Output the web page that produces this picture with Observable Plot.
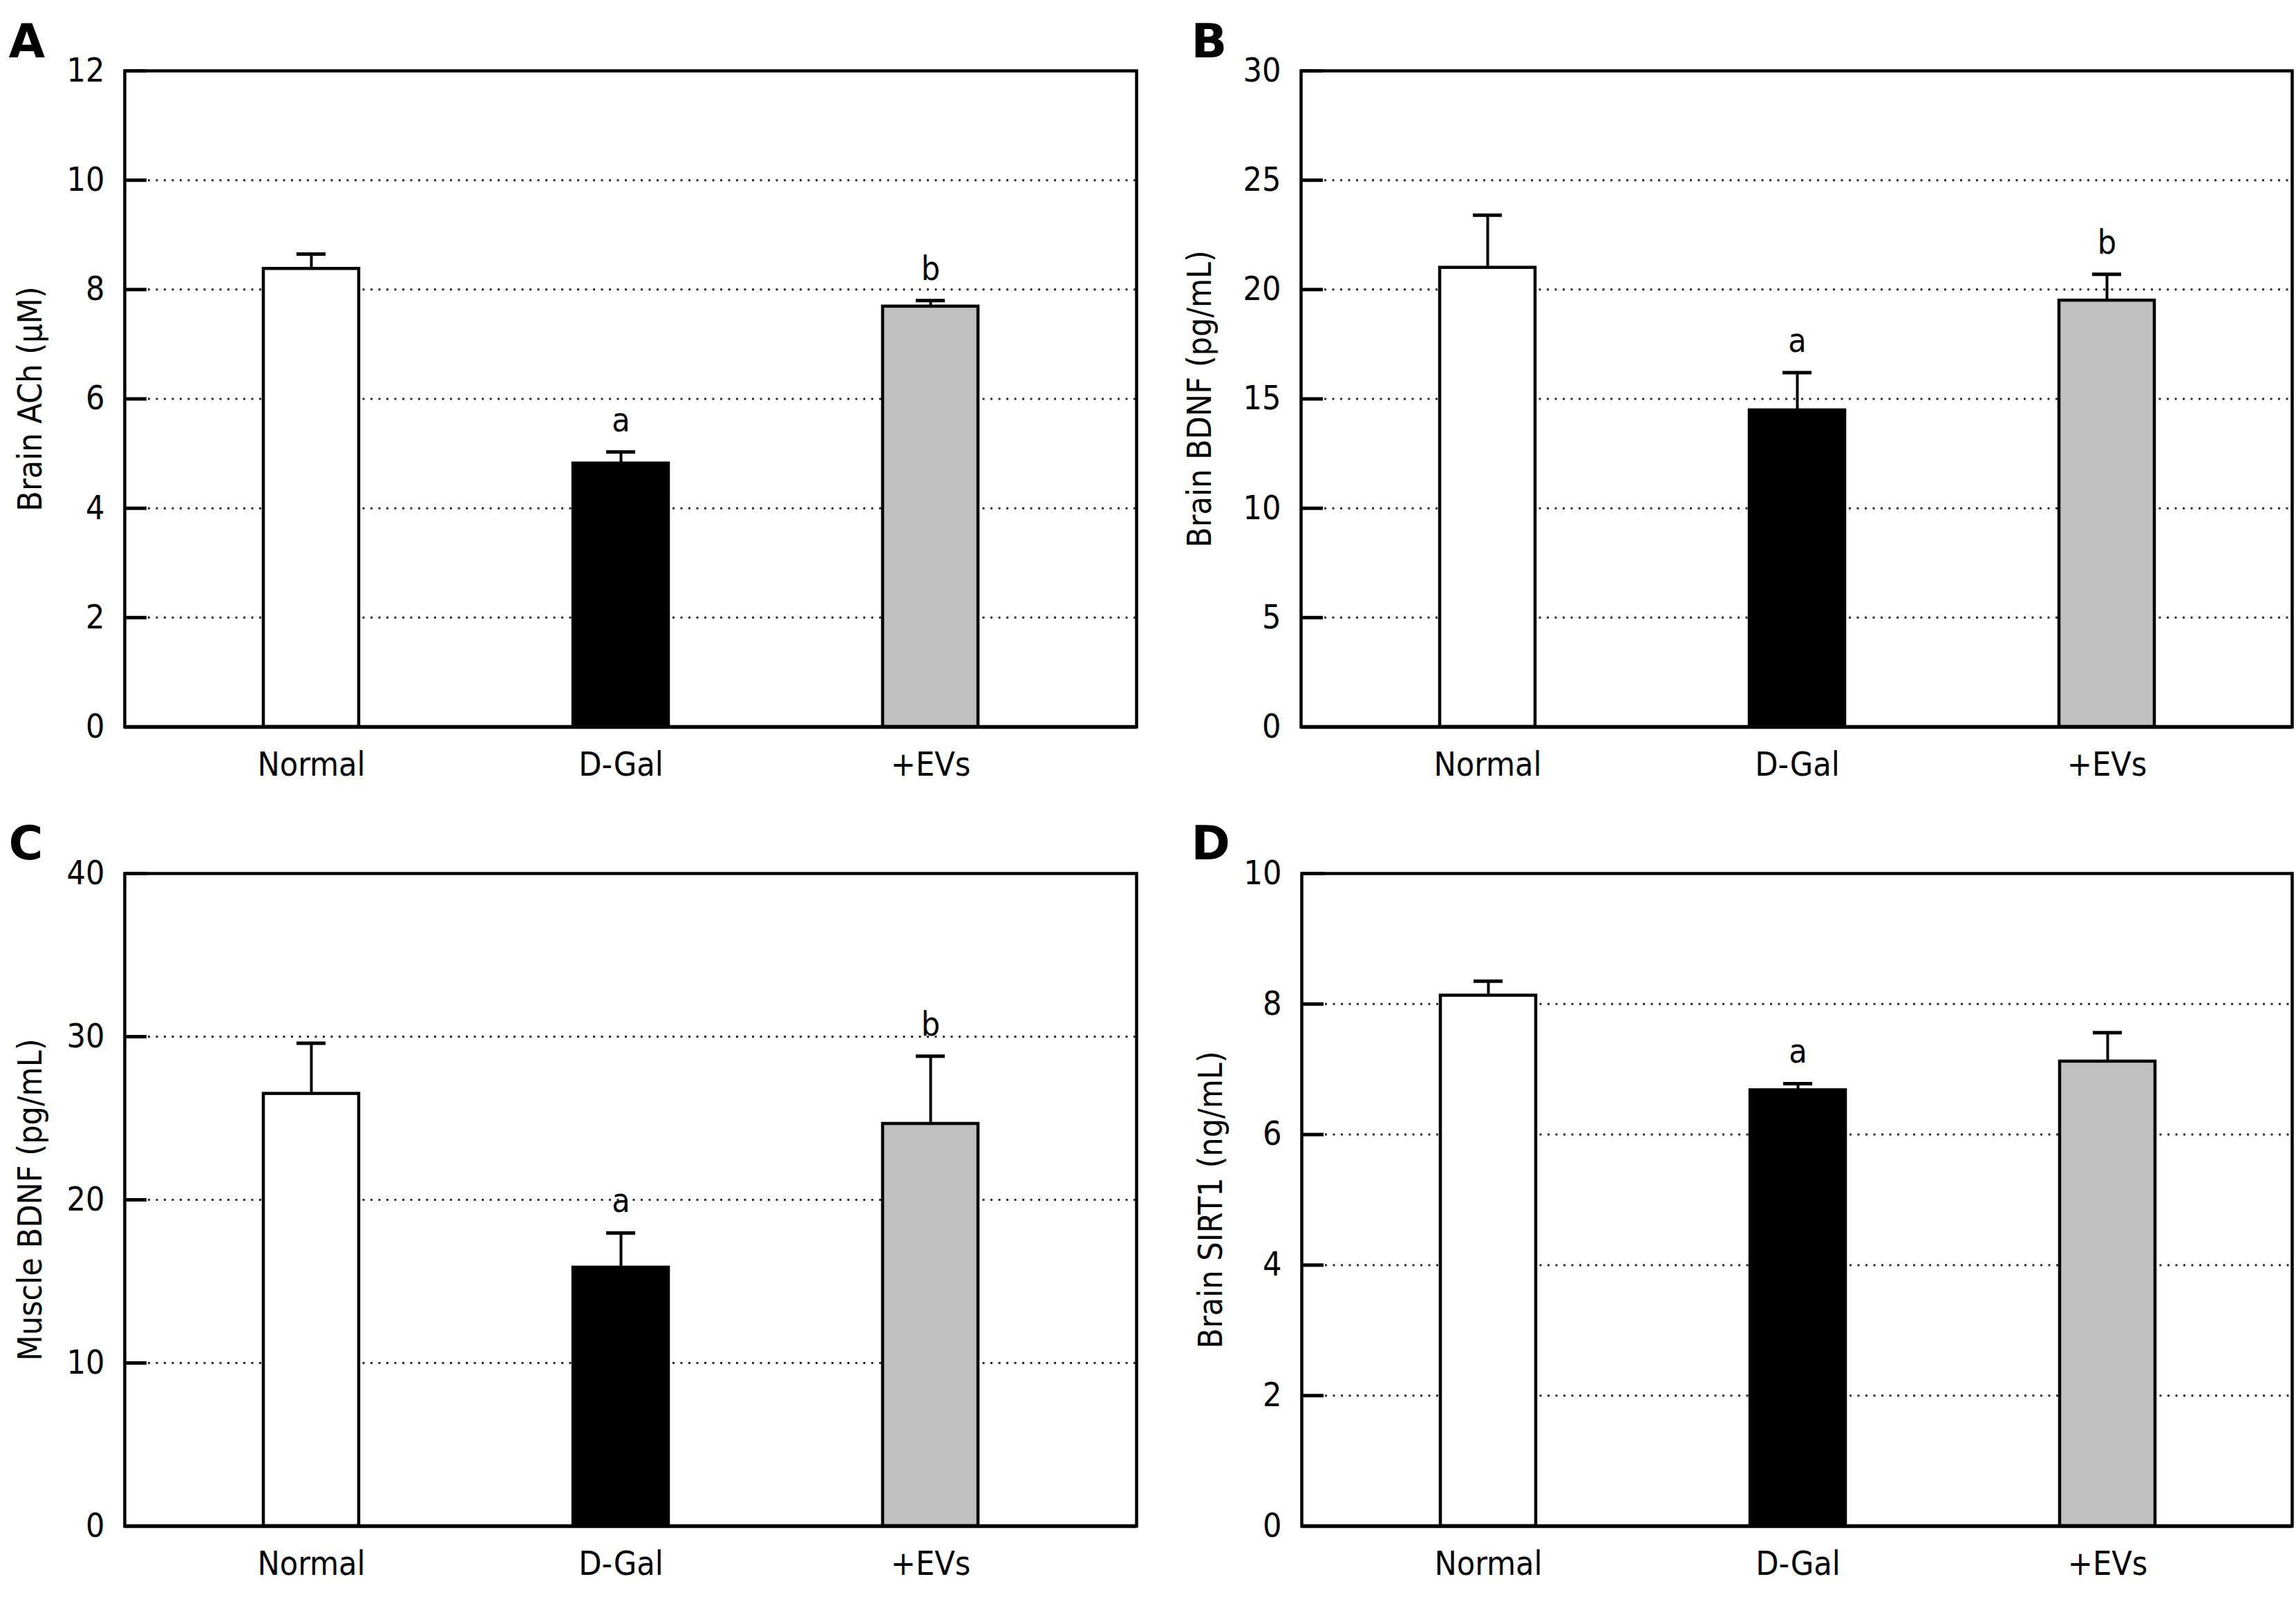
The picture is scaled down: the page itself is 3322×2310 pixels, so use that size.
<!DOCTYPE html>
<html>
<head>
<meta charset="utf-8">
<script src="https://cdn.jsdelivr.net/npm/d3@7"></script>
<script src="https://cdn.jsdelivr.net/npm/@observablehq/plot@0.6"></script>
<style>
  html, body { margin: 0; padding: 0; background: white; }
  #wrap { position: relative; width: 3322px; height: 2310px; background: white; }
  .panel { position: absolute; }
</style>
</head>
<body>
<div id="wrap"></div>
<script>
// ---- data ----
const groups = ["Normal", "D-Gal", "+EVs"];
const barColors = ["white", "black", "#c0c0c0"];

const achMean = [8.38, 4.82, 7.69];
const achErr = [0.27, 0.21, 0.11];
const achSig = ["", "a", "b"];
const achTicks = [0, 2, 4, 6, 8, 10, 12];

const brainBdnfMean = [21.0, 14.48, 19.5];
const brainBdnfErr = [2.4, 1.72, 1.2];
const brainBdnfSig = ["", "a", "b"];
const brainBdnfTicks = [0, 5, 10, 15, 20, 25, 30];

const muscleBdnfMean = [26.5, 15.85, 24.66];
const muscleBdnfErr = [3.1, 2.12, 4.14];
const muscleBdnfSig = ["", "a", "b"];
const muscleBdnfTicks = [0, 10, 20, 30, 40];

const sirtMean = [8.13, 6.68, 7.12];
const sirtErr = [0.22, 0.10, 0.44];
const sirtSig = ["", "a", ""];
const sirtTicks = [0, 2, 4, 6, 8, 10];

const panels = [
  {letter: "A", title: "Brain ACh (\u03bcM)", mean: achMean, err: achErr, sig: achSig, ticks: achTicks,
   left: 0, top: 0, ml: 180, mr: 17, mt: 102, mb: 104, titleDx: -136, letterDx: -168, letterDy: -68},
  {letter: "B", title: "Brain BDNF (pg/mL)", mean: brainBdnfMean, err: brainBdnfErr, sig: brainBdnfSig, ticks: brainBdnfTicks,
   left: 1661, top: 0, ml: 221, mr: 6, mt: 102, mb: 104, titleDx: -146, letterDx: -159, letterDy: -68},
  {letter: "C", title: "Muscle BDNF (pg/mL)", mean: muscleBdnfMean, err: muscleBdnfErr, sig: muscleBdnfSig, ticks: muscleBdnfTicks,
   left: 0, top: 1155, ml: 180, mr: 17, mt: 108, mb: 103, titleDx: -136, letterDx: -168, letterDy: -69},
  {letter: "D", title: "Brain SIRT1 (ng/mL)", mean: sirtMean, err: sirtErr, sig: sirtSig, ticks: sirtTicks,
   left: 1661, top: 1155, ml: 222, mr: 6, mt: 108, mb: 103, titleDx: -131, letterDx: -160, letterDy: -69}
];

const W = 1661, H = 1155;
const FONT = "'DejaVu Sans Condensed', 'DejaVu Sans', sans-serif";
const wrap = document.getElementById("wrap");

for (const p of panels) {
  const data = groups.map((g, i) => ({group: g, mean: p.mean[i], top: p.mean[i] + p.err[i], sig: p.sig[i]}));
  const ymax = p.ticks[p.ticks.length - 1];
  const grid = p.ticks.filter(t => t > 0 && t < ymax);
  const frameW = W - p.ml - p.mr;

  const chart = Plot.plot({
    width: W, height: H,
    marginLeft: p.ml, marginRight: p.mr, marginTop: p.mt, marginBottom: p.mb,
    style: {fontFamily: FONT, fontSize: "48px", background: "white", color: "black", overflow: "visible"},
    x: {domain: groups, range: [p.ml + 200, p.ml + 1235], paddingInner: 0.692, paddingOuter: 0, label: null},
    y: {domain: [0, ymax], label: null},
    color: {domain: groups, range: barColors},
    marks: [
      Plot.ruleY(grid, {stroke: "#2a2a2a", strokeWidth: 3, strokeDasharray: "3,8.5", insetLeft: 34}),
      Plot.ruleY(p.ticks, {stroke: "black", strokeWidth: 5, insetRight: frameW - 32}),
      Plot.ruleX(data, {x: "group", y1: "mean", y2: "top", stroke: "black", strokeWidth: 4}),
      Plot.tickY(data, {x: "group", y: "top", stroke: "black", strokeWidth: 5, insetLeft: 48, insetRight: 48}),
      Plot.barY(data, {x: "group", y: "mean", fill: "group", stroke: "black", strokeWidth: 4.5}),
      Plot.text(data.filter(d => d.sig), {x: "group", y: "top", text: "sig", lineAnchor: "bottom", dy: -30, fontSize: 48, fill: "black"}),
      Plot.frame({stroke: "black", strokeWidth: 4.5}),
      Plot.ruleY([0], {stroke: "black", strokeWidth: 5.5}),
      Plot.axisY({ticks: p.ticks, tickSize: 0, tickPadding: 29, fontSize: 48, label: null, tickFormat: d => String(d)}),
      Plot.axisX({tickSize: 0, tickPadding: 36, fontSize: 48, label: null}),
      Plot.text([p.title], {frameAnchor: "left", textAnchor: "middle", lineAnchor: "middle", rotate: -90, dx: p.titleDx, fontSize: 48, fill: "black"}),
      Plot.text([p.letter], {frameAnchor: "top-left", textAnchor: "start", lineAnchor: "top", dx: p.letterDx, dy: p.letterDy,
        fontSize: 68, fontWeight: "bold", fontFamily: "'DejaVu Sans', sans-serif", fill: "black"})
    ]
  });

  const div = document.createElement("div");
  div.className = "panel";
  div.style.left = p.left + "px";
  div.style.top = p.top + "px";
  div.appendChild(chart);
  wrap.appendChild(div);
}
</script>
</body>
</html>
